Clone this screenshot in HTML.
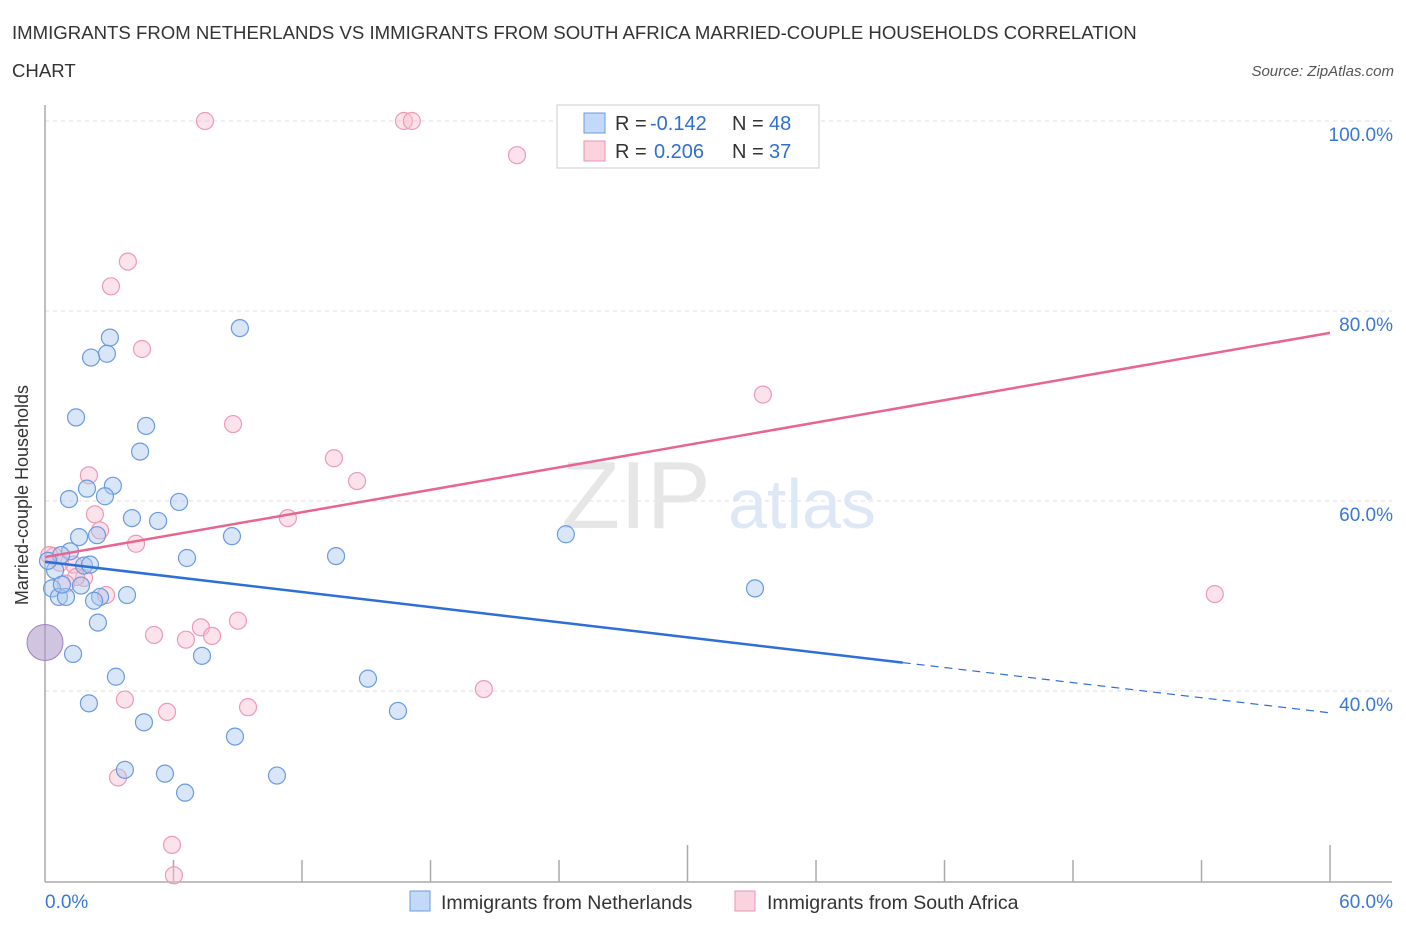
<!DOCTYPE html>
<html><head><meta charset="utf-8"><style>
body{margin:0;background:#fff;font-family:"Liberation Sans",sans-serif;}
svg text{font-family:"Liberation Sans",sans-serif;}
</style></head><body>
<svg width="1406" height="930" xmlns="http://www.w3.org/2000/svg">
<text x="12" y="39" font-size="18.6" fill="#333">IMMIGRANTS FROM NETHERLANDS VS IMMIGRANTS FROM SOUTH AFRICA MARRIED-COUPLE HOUSEHOLDS CORRELATION</text>
<text x="12" y="77" font-size="18.6" fill="#333">CHART</text>
<text x="1394" y="76" font-size="15" fill="#555" font-style="italic" text-anchor="end">Source: ZipAtlas.com</text>
<g id="grid"></g>
<text x="636" y="528" font-size="96" fill="#e6e6e6" font-family="Liberation Serif" text-anchor="middle">ZIP</text>
<text x="802" y="528" font-size="70" fill="#dde7f5" text-anchor="middle">atlas</text>
<g id="marks"></g>
<text x="28" y="495" font-size="18" fill="#333" text-anchor="middle" transform="rotate(-90 28 495)">Married-couple Households</text>
<g>
<rect x="557" y="105" width="262" height="63" fill="#fff" stroke="#ccc"/>
<rect x="584" y="113" width="21" height="20" fill="#c4d9f7" stroke="#6a9be0"/>
<rect x="584" y="141" width="21" height="20" fill="#fbd3de" stroke="#ea94ae"/>
<text x="615" y="130" font-size="20" fill="#333">R =</text>
<text x="650" y="130" font-size="20" fill="#2f6fcf">-0.142</text>
<text x="732" y="130" font-size="20" fill="#333">N =</text>
<text x="769" y="130" font-size="20" fill="#2f6fcf">48</text>
<text x="615" y="158" font-size="20" fill="#333">R =</text>
<text x="654" y="158" font-size="20" fill="#2f6fcf">0.206</text>
<text x="732" y="158" font-size="20" fill="#333">N =</text>
<text x="769" y="158" font-size="20" fill="#2f6fcf">37</text>
</g>
<g>
<rect x="410" y="891" width="20" height="20" fill="#c4d9f7" stroke="#6a9be0"/>
<text x="441" y="909" font-size="19.5" fill="#333">Immigrants from Netherlands</text>
<rect x="735" y="891" width="20" height="20" fill="#fbd3de" stroke="#ea94ae"/>
<text x="767" y="909" font-size="19.5" fill="#333">Immigrants from South Africa</text>
</g>
</svg>
<script>
const yTicks=[40,60,80,100];
const yTickLabels=["40.0%","60.0%","80.0%","100.0%"];
const xTickLabels=["0.0%","60.0%"];
const blueX=[9.10,3.03,2.89,2.15,1.45,4.72,4.44,3.17,1.96,2.80,1.12,6.26,4.06,5.28,2.43,1.59,8.73,24.32,1.17,0.75,6.63,13.59,1.82,0.47,0.33,1.68,33.15,0.65,0.98,2.57,3.83,2.29,2.47,1.31,7.33,3.31,15.08,2.05,16.48,4.62,8.87,3.73,5.60,10.83,6.54,0.14,0.79,2.1];
const blueY=[78.2,77.2,75.5,75.1,68.8,67.9,65.2,61.6,61.3,60.5,60.2,59.9,58.2,57.9,56.4,56.2,56.3,56.5,54.7,54.3,54.0,54.2,53.2,52.7,50.8,51.1,50.8,49.9,49.9,49.9,50.1,49.5,47.2,43.9,43.7,41.5,41.3,38.7,37.9,36.7,35.2,31.7,31.3,31.1,29.3,53.7,51.2,53.3];
const pinkX=[7.47,16.76,17.13,22.04,3.87,3.08,4.53,33.52,8.78,13.49,14.57,2.05,2.33,11.34,2.57,4.25,0.42,0.70,1.35,1.82,1.45,0.98,2.85,54.62,7.28,9.01,5.09,6.58,7.80,20.49,3.73,9.48,5.70,3.41,5.93,6.02,0.2];
const pinkY=[100,100,100,96.4,85.2,82.6,76.0,71.2,68.1,64.5,62.1,62.7,58.6,58.2,56.9,55.5,54.2,53.5,53.3,51.9,52.0,51.3,50.1,50.2,46.7,47.4,45.9,45.4,45.8,40.2,39.1,38.3,37.8,30.9,23.8,20.6,54.3];
const blueTrend=[53.6,37.7];
const pinkTrend=[54.1,77.7];
const blueSolidEnd=40.05;
const xs=v=>45+v*21.417, ys=v=>121+(100-v)*9.5;
const NS="http://www.w3.org/2000/svg";
const grid=document.getElementById('grid'), marks=document.getElementById('marks');
function mk(tag,attrs,parent){const e=document.createElementNS(NS,tag);for(const k in attrs)e.setAttribute(k,attrs[k]);parent.appendChild(e);return e;}
yTicks.forEach((t,i)=>{
 const l=mk('line',{x1:45,x2:1392,y1:ys(t),y2:ys(t),stroke:'#ddd','stroke-dasharray':'4,4'},grid);
 
 
 const tx=mk('text',{x:1393,y:ys(t)+20,'font-size':19,fill:'#3a78d6','text-anchor':'end'},grid);
 tx.textContent=yTickLabels[i];
 
 
});
mk('line',{x1:45,x2:45,y1:105,y2:882,stroke:'#aaa','stroke-width':1.5},grid);
mk('line',{x1:45,x2:1392,y1:882,y2:882,stroke:'#aaa','stroke-width':1.5},grid);
for(let i=1;i<=10;i++){const x=xs(i*6);mk('line',{x1:x,x2:x,y1:(i==5||i==10)?845:860,y2:882,stroke:'#aaa','stroke-width':1.5},grid);}
[[0,'start',45],[60,'end',1393]].forEach((a,i)=>{const t=mk('text',{x:a[2],y:908,'font-size':19,fill:'#3a78d6','text-anchor':a[1]},grid);t.textContent=xTickLabels[i];
 
 });
const big=mk('circle',{cx:xs(0),cy:ys(45.1),r:18,fill:'rgba(170,150,200,0.55)',stroke:'#a080c0'},marks);


pinkX.forEach((x,i)=>{const c=mk('circle',{cx:xs(x),cy:ys(pinkY[i]),r:8.5,fill:'rgba(248,190,208,0.45)',stroke:'#ee9ab3','stroke-width':1.2},marks);
 
 });
blueX.forEach((x,i)=>{const c=mk('circle',{cx:xs(x),cy:ys(blueY[i]),r:8.5,fill:'rgba(170,200,240,0.45)',stroke:'#6a9be0','stroke-width':1.2},marks);
 
 });
const bAt=v=>blueTrend[0]+(blueTrend[1]-blueTrend[0])*v/60;
const pl=mk('line',{x1:xs(0),y1:ys(pinkTrend[0]),x2:xs(60),y2:ys(pinkTrend[1]),stroke:'#e8658f','stroke-width':2.5},marks);


const bl=mk('line',{x1:xs(0),y1:ys(bAt(0)),x2:xs(blueSolidEnd),y2:ys(bAt(blueSolidEnd)),stroke:'#2d6fd6','stroke-width':2.5},marks);


const bd=mk('line',{x1:xs(blueSolidEnd),y1:ys(bAt(blueSolidEnd)),x2:xs(60),y2:ys(bAt(60)),stroke:'#2d6fd6','stroke-width':1.2,'stroke-dasharray':'8,6'},marks);


</script>
</body></html>
